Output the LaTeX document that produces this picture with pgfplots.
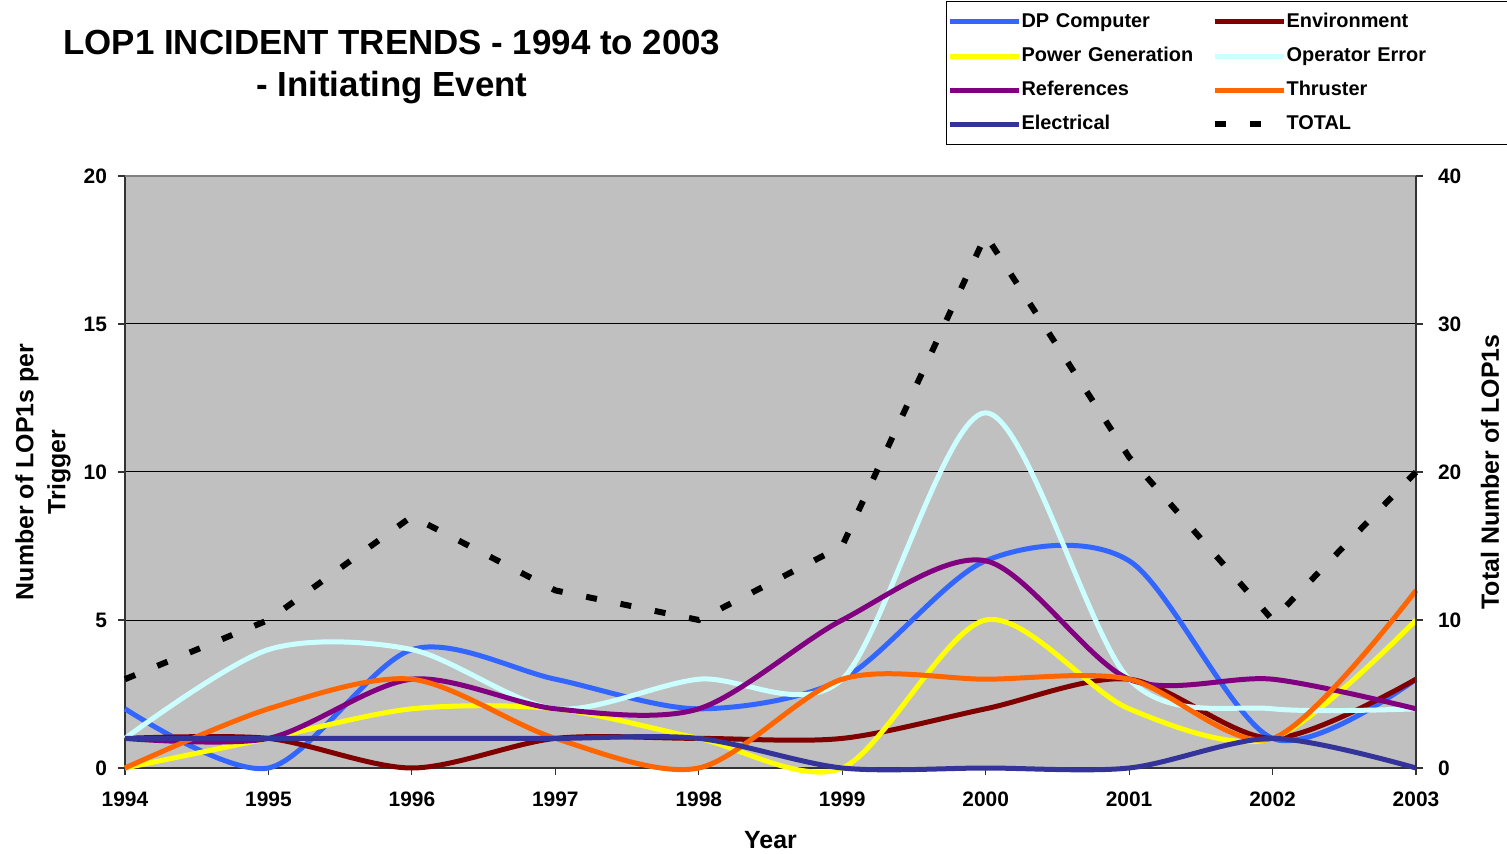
\documentclass[border=0pt]{standalone}
\usepackage{pgfplots}
\pgfplotsset{compat=1.18}
\usepackage{pgfplotstable}
\usepackage{fontspec}
\setmainfont{Liberation Sans}
\definecolor{dpblue}{HTML}{3366FF}
\definecolor{pgyellow}{HTML}{FFFF00}
\definecolor{refpurple}{HTML}{800080}
\definecolor{elnavy}{HTML}{333399}
\definecolor{envred}{HTML}{800000}
\definecolor{opcyan}{HTML}{CCFFFF}
\definecolor{thorange}{HTML}{FF6600}
\definecolor{plotgray}{HTML}{C0C0C0}
\pgfplotstableread{
x dp pg ref el env op th total
0 2 0 1 1 1 1 0 6
1 0 1 1 1 1 4 2 10
2 4 2 3 1 0 4 3 17
3 3 2 2 1 1 2 1 12
4 2 1 2 1 1 3 0 10
5 3 0 5 0 1 3 3 15
6 7 5 7 0 2 12 3 36
7 7 2 3 0 3 3 3 21
8 1 1 3 1 1 2 1 10
9 3 5 2 0 3 2 6 20
}\data
\pgfplotsset{
  base/.style={
    scale only axis, width=645.5bp, height=296bp,
    at={(0bp,0bp)}, anchor=south west,
    xmin=0, xmax=9, clip=false,
    tick align=outside, major tick length=3.5bp,
    axis line style={line width=0.7bp, black!80},
    tick style={line width=0.6bp, black!80},
    ticklabel style={font=\fontsize{10.5}{12}\selectfont\bfseries},
    /pgf/number format/assume math mode=true,
  },
  ser/.style={line width=2.5bp, smooth, tension=0.5},
}
\begin{document}
\begin{tikzpicture}[font=\bfseries]
\useasboundingbox (-62.5bp,-43bp) rectangle (691bp,384bp);
\begin{axis}[base,
  ymin=0, ymax=20, ytick={0,5,10,15,20},
  axis x line*=bottom, axis y line*=left,
  xtick={0,...,9}, xticklabels={1994,1995,1996,1997,1998,1999,2000,2001,2002,2003},
  xticklabel style={yshift=-5bp},
  yticklabel style={xshift=-2bp},
  ymajorgrids, grid style={black, line width=0.5bp},
  axis background/.style={fill=plotgray},
  xlabel={Year},
  every axis x label/.style={at={(axis description cs:0.5,-0.1216)}, anchor=center,
    font=\fontsize{12.5}{16}\selectfont\bfseries},
  ylabel={Number of LOP1s per\\Trigger},
  every axis y label/.style={at={(axis description cs:-0.0635,0.5)}, anchor=center, rotate=90, align=center,
    font=\fontsize{12.5}{16}\selectfont\bfseries},
]
\addplot[dpblue, ser] table[x=x,y=dp]{\data};
\addplot[envred, ser] table[x=x,y=env]{\data};
\addplot[pgyellow, ser] table[x=x,y=pg]{\data};
\addplot[opcyan, ser] table[x=x,y=op]{\data};
\addplot[refpurple, ser] table[x=x,y=ref]{\data};
\addplot[thorange, ser] table[x=x,y=th]{\data};
\addplot[elnavy, ser] table[x=x,y=el]{\data};
\draw[black!50, line width=0.7bp] (axis cs:0,20) -- (axis cs:9,20);
\end{axis}
\begin{axis}[base,
  ymin=0, ymax=40, ytick={0,10,20,30,40},
  axis x line=none, axis y line*=right,
  yticklabel style={xshift=4bp},
  ylabel={Total Number of LOP1s},
  every axis y label/.style={at={(axis description cs:1.0573,0.5)}, anchor=center, rotate=90,
    font=\fontsize{12.5}{16}\selectfont\bfseries},
  legend columns=2,
  legend cell align=left,
  legend image code/.code={\draw[#1] (0bp,0bp) -- (34.5bp,0bp);},
  legend style={at={(axis description cs:0.6360,1.2956)}, anchor=north west,
    draw=black, line width=0.5bp, fill=white, inner xsep=0.5bp, inner ysep=5.5bp,
    font=\fontsize{10}{12}\selectfont\bfseries, row sep=7.8bp, column sep=0bp,
    nodes={inner xsep=0bp, inner ysep=0bp, text height=7.3bp, text depth=2bp, text width=95bp},
    /tikz/column 4/.style={nodes={text width=112bp}}},
]
\addlegendimage{dpblue, line width=2.5bp}\addlegendentry{DP Computer}
\addlegendimage{envred, line width=2.5bp}\addlegendentry{Environment}
\addlegendimage{pgyellow, line width=2.5bp}\addlegendentry{Power Generation}
\addlegendimage{opcyan, line width=2.5bp}\addlegendentry{Operator Error}
\addlegendimage{refpurple, line width=2.5bp}\addlegendentry{References}
\addlegendimage{thorange, line width=2.5bp}\addlegendentry{Thruster}
\addlegendimage{elnavy, line width=2.5bp}\addlegendentry{Electrical}
\addplot[black, line width=3bp, dash pattern=on 5.5bp off 12bp] table[x=x,y=total]{\data};
\addlegendentry{TOTAL}
\end{axis}
\node[align=center, font=\fontsize{17.5}{21}\selectfont\bfseries] at (133.5bp,350.5bp) {LOP1 INCIDENT TRENDS - 1994 to 2003\\- Initiating Event};
\end{tikzpicture}
\end{document}
